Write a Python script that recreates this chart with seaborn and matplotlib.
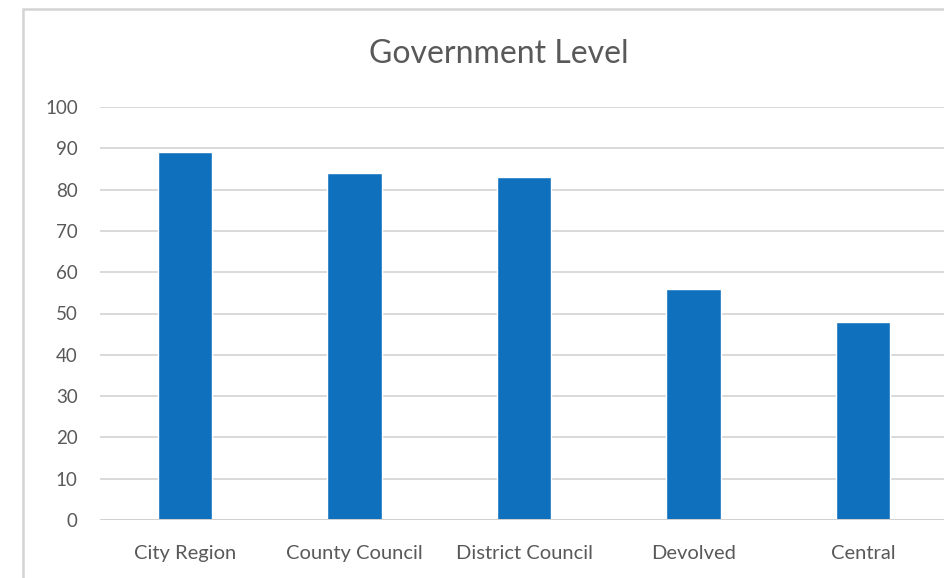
import matplotlib
matplotlib.use("Agg")
import matplotlib.pyplot as plt
import seaborn as sns
import pandas as pd
from matplotlib.patches import Rectangle

categories = ["City Region", "County Council", "District Council", "Devolved", "Central"]
values = [89, 84, 83, 56, 48]
yticks = [0, 10, 20, 30, 40, 50, 60, 70, 80, 90, 100]

sns.set_theme(style="white")
plt.rcParams["font.family"] = ["Lato", "DejaVu Sans"]

df = pd.DataFrame({"level": categories, "value": values})

fig = plt.figure(figsize=(9.44, 5.78), dpi=100)
ax = fig.add_axes([100 / 944, 1 - 520 / 578, 848 / 944, 413 / 578])

ax.set_axisbelow(True)
for t in yticks[1:]:
    ax.axhline(t, color="#d9d9d9", lw=1.4, zorder=0)

sns.barplot(data=df, x="level", y="value", color="#0F70BE", saturation=1,
            width=0.32, ax=ax, zorder=2)
ax.axhline(0, color="#d0d0d0", lw=1.4, zorder=3)

ax.set_xlim(-0.5, 4.5)
ax.set_ylim(0, 100)
ax.set_yticks(yticks)
ax.set_xlabel("")
ax.set_ylabel("")
for s in ax.spines.values():
    s.set_visible(False)
ax.tick_params(axis="y", length=0, pad=16, labelsize=13.5, labelcolor="#595959")
ax.tick_params(axis="x", length=0, pad=18, labelsize=14.5, labelcolor="#595959")

fig.text(499 / 944, 1 - 54 / 578, "Government Level", ha="center", va="center",
         fontsize=23, color="#595959")

fig.patches.append(Rectangle((23 / 944, -0.05), 1.0, 1 - 9 / 578 + 0.05,
                             transform=fig.transFigure, fill=False,
                             edgecolor="#d4d4d4", lw=1.8, zorder=10))

fig.savefig("out.png", dpi=100)
